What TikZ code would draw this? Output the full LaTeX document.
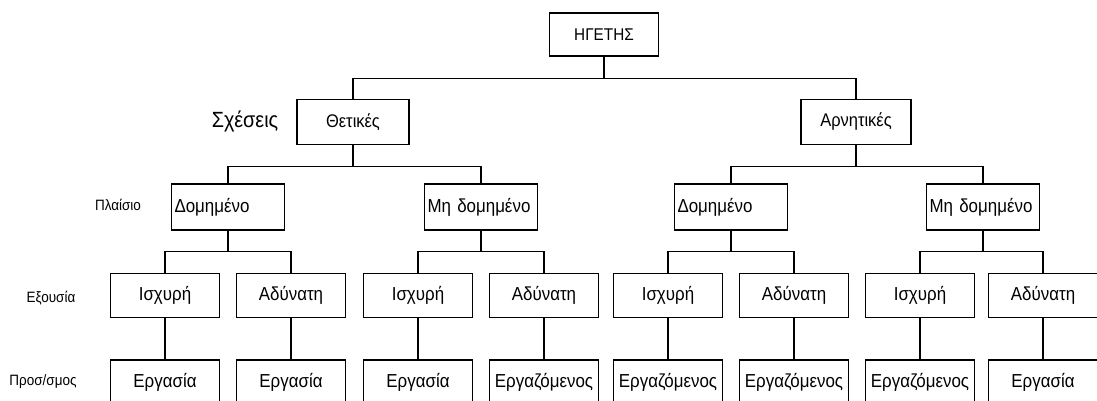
\documentclass[tikz,border=0pt]{standalone}
\usepackage{fontspec}
\setmainfont{Liberation Sans}[FakeStretch=0.9]

\tikzset{
	box/.style={draw,line width=1.1pt,inner sep=0pt,minimum width=109pt,minimum height=44pt,font=\fontsize{18.8}{22}\selectfont},
	framebox/.style={box,minimum width=113pt,minimum height=46pt,text width=107pt,align=left},
	side/.style={font=\fontsize{15}{18}\selectfont},
	link/.style={line width=1.1pt}
}

\begin{document}
\begin{tikzpicture}[x=1pt,y=-1pt]
	\useasboundingbox (0,0) rectangle (1097,401);
	\clip (0,0) rectangle (1097,401);

	\node[box,minimum height=43pt,font=\fontsize{17}{20}\selectfont] (leader) at (604,34.5) {ΗΓΕΤΗΣ};
	\node[box,minimum width=112pt,minimum height=45pt,font=\fontsize{18.3}{21}\selectfont] (pos) at (353,122) {Θετικές};
	\node[box,minimum width=110pt,minimum height=45pt,font=\fontsize{18.3}{21}\selectfont] (neg) at (856,122) {Αρνητικές};
	\node[font=\fontsize{22}{26}\selectfont] (rel) at (245,121) {Σχέσεις};

	\foreach \x/\t [count=\i] in {228/Δομημένο,481/Μη δομημένο,731/Δομημένο,983/Μη δομημένο}
		\node[framebox] (frame\i) at (\x,207) {\t};

	\foreach \x/\t [count=\i] in {165/Ισχυρή,291/Αδύνατη,418/Ισχυρή,544/Αδύνατη,668/Ισχυρή,794/Αδύνατη,920/Ισχυρή,1043/Αδύνατη}
		\node[box] (power\i) at (\x,295.5) {\t};

	\foreach \x/\t [count=\i] in {165/Εργασία,291/Εργασία,418/Εργασία,544/Εργαζόμενος,668/Εργαζόμενος,794/Εργαζόμενος,920/Εργαζόμενος,1043/Εργασία}
		\node[box] (orient\i) at (\x,382) {\t};

	% row labels
	\node[side] (lframe) at (118,205) {Πλαίσιο};
	\node[side] (lpower) at (51,298) {Εξουσία};
	\node[side] (lorient) at (43,382) {Προσ/σμος};

	\foreach \c in {pos,neg}
		\draw[link] (leader.south) -- ++(0,22) -| (\c.north);
	\foreach \p/\c in {pos/1,pos/2,neg/3,neg/4}
		\draw[link] (\p.south) -- ++(0,21) -| (frame\c.north);
	\foreach \p/\a/\b in {1/1/2,2/3/4,3/5/6,4/7/8} {
		\draw[link] (frame\p.south) -- ++(0,21) -| (power\a.north);
		\draw[link] (frame\p.south) -- ++(0,21) -| (power\b.north);
	};
	\foreach \i in {1,...,8}
		\draw[link] (power\i.south) -- (orient\i.north);
\end{tikzpicture}
\end{document}
